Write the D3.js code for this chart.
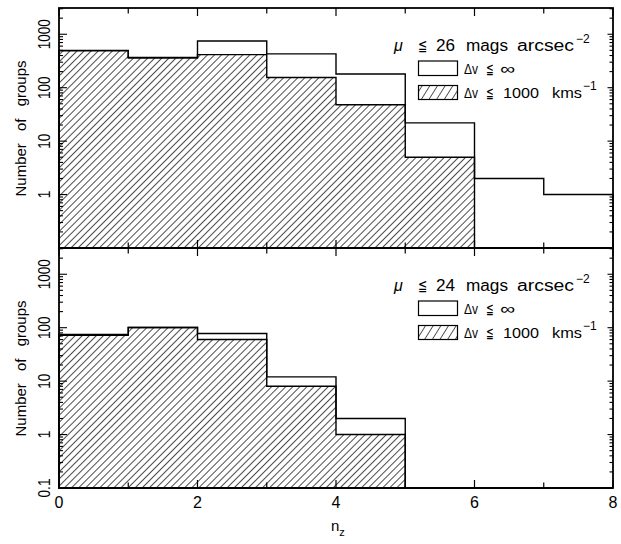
<!DOCTYPE html>
<html><head><meta charset="utf-8">
<script src="https://cdn.jsdelivr.net/npm/d3@7"></script>
<style>body{margin:0;background:#fff}svg{display:block}text{font-family:"Liberation Sans",Arial,sans-serif;fill:#000}</style>
</head><body>
<script>
// bins: n_z from 0..8 (bin edges)
const binEdges = [0,1,2,3,4,5,6,7,8];
// Top panel: mu <= 26 mags arcsec^-2
const top_all  = [500, 370, 750, 430, 180, 22, 2, 1];
const top_1000 = [490, 360, 415, 155, 48, 5, 0, 0];
// Bottom panel: mu <= 24 mags arcsec^-2
const bot_all  = [75, 101, 78, 12, 2, 0, 0, 0];
const bot_1000 = [72, 101, 60, 8, 1, 0, 0, 0];
const panelTitles = ["26", "24"];
const yTickValsTop = [1, 10, 100, 1000];
const yTickValsBot = [0.1, 1, 10, 100, 1000];
const xTickLabels = [0, 2, 4, 6, 8];

const W = 621, H = 544;
const svg = d3.select("body").append("svg").attr("width", W).attr("height", H);
const defs = svg.append("defs");
defs.append("pattern").attr("id","hatch").attr("patternUnits","userSpaceOnUse")
  .attr("width",5).attr("height",5).attr("patternTransform","rotate(45)")
  .append("line").attr("x1",0).attr("y1",-1).attr("x2",0).attr("y2",6)
  .attr("stroke","#000").attr("stroke-width",1.4);
defs.append("pattern").attr("id","hatchL").attr("patternUnits","userSpaceOnUse")
  .attr("width",6.5).attr("height",6.5).attr("patternTransform","rotate(32)")
  .append("line").attr("x1",0).attr("y1",-1).attr("x2",0).attr("y2",8)
  .attr("stroke","#000").attr("stroke-width",1.3);

const x = d3.scaleLinear().domain([0, 8]).range([59, 613]);
const panels = [
  {top: 8, bottom: 248, all: top_all, v1000: top_1000, title: panelTitles[0], ticks: yTickValsTop},
  {top: 248, bottom: 488, all: bot_all, v1000: bot_1000, title: panelTitles[1], ticks: yTickValsBot}
];

function stepPath(vals, y, ymin) {
  const p = d3.path();
  p.moveTo(x(binEdges[0]), y(ymin));
  vals.forEach((v, i) => {
    const yy = y(Math.max(v, ymin));
    p.lineTo(x(binEdges[i]), yy);
    p.lineTo(x(binEdges[i+1]), yy);
  });
  p.lineTo(x(binEdges[binEdges.length-1]), y(ymin));
  p.closePath();
  return p.toString();
}

function words(g, yy, size, parts) {
  const t = g.append("text").attr("y", yy).attr("font-size", size);
  parts.forEach(p => {
    const s = t.append("tspan").attr("x", p.x).text(p.t);
    if (p.italic) s.attr("font-style", "italic");
    if (p.w) { s.attr("textLength", p.w).attr("lengthAdjust", "spacingAndGlyphs"); }
  });
  return t;
}

panels.forEach((P, pi) => {
  const y = d3.scaleLog().domain([0.1, 3100]).range([P.bottom, P.top]);
  const g = svg.append("g");
  const ymin = 0.1;
  g.append("path").attr("d", stepPath(P.v1000, y, ymin))
    .attr("fill", "url(#hatch)").attr("stroke", "#000").attr("stroke-width", 1.4);
  g.append("path").attr("d", stepPath(P.all, y, ymin))
    .attr("fill", "none").attr("stroke", "#000").attr("stroke-width", 1.4);

  g.append("rect").attr("x", x(0)).attr("y", P.top).attr("width", x(8)-x(0)).attr("height", P.bottom-P.top)
    .attr("fill","none").attr("stroke","#000").attr("stroke-width",1.8);

  d3.range(0, 9).forEach(t => {
    const len = t % 2 === 0 ? 8 : 5.5;
    g.append("line").attr("x1", x(t)).attr("x2", x(t)).attr("y1", P.bottom).attr("y2", P.bottom-len)
      .attr("stroke","#000").attr("stroke-width",1.2);
    g.append("line").attr("x1", x(t)).attr("x2", x(t)).attr("y1", P.top).attr("y2", P.top+len)
      .attr("stroke","#000").attr("stroke-width",1.2);
  });
  for (let e = -1; e <= 3; e++) {
    for (let m = 1; m <= 9; m++) {
      const v = m * Math.pow(10, e);
      if (v > 3100) continue;
      const yy = y(v);
      const major = m === 1;
      g.append("line").attr("x1", x(0)).attr("x2", x(0) + (major ? 8 : 4)).attr("y1", yy).attr("y2", yy)
        .attr("stroke","#000").attr("stroke-width",1.1);
      g.append("line").attr("x1", x(8)).attr("x2", x(8) - (major ? 5.5 : 3.5)).attr("y1", yy).attr("y2", yy)
        .attr("stroke","#000").attr("stroke-width",1.1);
    }
  }
  P.ticks.forEach(t => {
    g.append("text").attr("transform", `translate(50,${y(t)}) rotate(-90) scale(0.85,1)`)
      .attr("text-anchor","middle").attr("font-size",16).text(d3.format("~g")(t));
  });
  g.append("text").attr("transform", `translate(26,${P.top + 120.5}) rotate(-90)`)
    .attr("text-anchor","middle").attr("font-size",15).attr("word-spacing",8).text("Number of groups");

  // legend
  const ly = P.top;
  words(g, ly + 43, 16, [
    {t: "μ", x: 394, italic: true},
    {t: "≦", x: 418, w: 9},
    {t: P.title, x: 436, w: 19},
    {t: "mags", x: 466, w: 42},
    {t: "arcsec", x: 517, w: 57}
  ]);
  g.append("text").attr("x", 576).attr("y", ly + 35).attr("font-size",12).text("−2");

  g.append("rect").attr("x", 418.5).attr("y", ly + 53).attr("width", 39).attr("height", 14.5)
    .attr("fill","#fff").attr("stroke","#000").attr("stroke-width",1.2);
  g.append("rect").attr("x", 418.5).attr("y", ly + 77.5).attr("width", 39).attr("height", 14)
    .attr("fill","url(#hatchL)").attr("stroke","#000").attr("stroke-width",1.2);
  words(g, ly + 66, 15, [
    {t: "Δv", x: 464, w: 14},
    {t: "≦", x: 486, w: 8},
    {t: "∞", x: 500, w: 15}
  ]);
  words(g, ly + 90, 15, [
    {t: "Δv", x: 464, w: 14},
    {t: "≦", x: 486, w: 8},
    {t: "1000", x: 503, w: 36},
    {t: "kms", x: 552, w: 30}
  ]);
  g.append("text").attr("x", 583).attr("y", ly + 82).attr("font-size",12).text("−1");
});

xTickLabels.forEach(t => {
  svg.append("text").attr("x", x(t)).attr("y", 508).attr("text-anchor","middle").attr("font-size",16).text(t);
});
const xt = svg.append("text").attr("x", 331).attr("y", 531).attr("font-size",15);
xt.append("tspan").text("n");
xt.append("tspan").attr("font-size",11).attr("dy",5).text("z");
</script>
</body></html>
